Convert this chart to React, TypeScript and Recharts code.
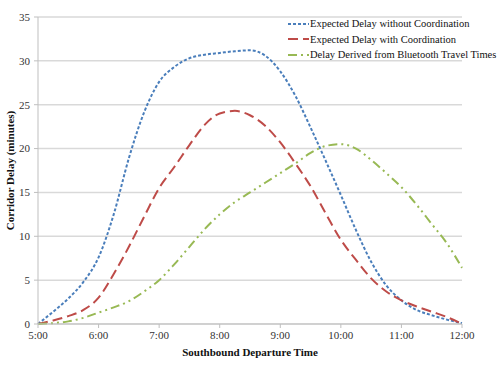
import React from 'react'
import { LineChart, Line, XAxis, YAxis, CartesianGrid } from 'recharts'

// departure time in hours, every 15 minutes from 5:00 to 12:00
const times = [5, 5.25, 5.5, 5.75, 6, 6.25, 6.5, 6.75, 7, 7.25, 7.5, 7.75, 8, 8.25, 8.5, 8.75, 9, 9.25, 9.5, 9.75, 10, 10.25, 10.5, 10.75, 11, 11.25, 11.5, 11.75, 12]

const withoutCoord = [0, 1.4, 2.9, 4.8, 7.6, 12.5, 18.9, 24.1, 27.6, 29.3, 30.3, 30.7, 30.9, 31.1, 31.2, 30.6, 28.8, 26.0, 22.4, 18.6, 14.7, 10.7, 7.1, 4.4, 2.7, 1.6, 1.0, 0.5, 0.1]
const withCoord = [0, 0.4, 0.9, 1.6, 3.0, 5.7, 8.8, 12.2, 15.5, 17.9, 20.4, 22.7, 24.0, 24.3, 23.8, 22.6, 20.7, 18.3, 15.7, 12.6, 9.6, 7.3, 5.2, 3.7, 2.7, 2.0, 1.4, 0.8, 0]
const bluetooth = [0, 0.1, 0.3, 0.7, 1.3, 1.9, 2.6, 3.7, 5.0, 6.8, 8.8, 10.8, 12.5, 13.9, 15.0, 16.1, 17.2, 18.3, 19.5, 20.3, 20.5, 20.0, 18.7, 17.2, 15.6, 13.6, 11.4, 9.2, 6.4]

const xTicks = [5, 6, 7, 8, 9, 10, 11, 12]
const yTicks = [0, 5, 10, 15, 20, 25, 30, 35]

const data = times.map((t, i) => ({
  t,
  without: withoutCoord[i],
  with: withCoord[i],
  bt: bluetooth[i],
}))

const SERIES = [
  { key: 'without', name: 'Expected Delay without Coordination', color: '#4a7ebb', dash: '3 2' },
  { key: 'with', name: 'Expected Delay with Coordination', color: '#be4b48', dash: '10 5' },
  { key: 'bt', name: 'Delay Derived from Bluetooth Travel Times', color: '#98b954', dash: '9 4 2 4 2 4' },
]

const FONT = '"Liberation Serif", "Times New Roman", serif'

function YLabel({ viewBox }: any) {
  const cy = viewBox.y + viewBox.height / 2
  return (
    <text x={10} y={cy} transform={`rotate(-90, 10, ${cy})`} textAnchor="middle" dominantBaseline="central"
      style={{ fontFamily: FONT, fontSize: 11, fontWeight: 'bold', fill: '#111' }}>
      Corridor Delay (minutes)
    </text>
  )
}

export default function App() {
  return (
    <div style={{ position: 'fixed', top: 0, left: 0, width: 500, height: 365, background: '#fff', fontFamily: FONT }}>
      <LineChart width={500} height={365} data={data} margin={{ top: 17, right: 38, bottom: 0, left: 0 }} style={{ fontFamily: FONT }}>
        <CartesianGrid vertical={false} stroke="#d9d9d9" strokeWidth={1.5} />
        <XAxis
          dataKey="t" type="number" domain={[5, 12]} ticks={xTicks} height={41}
          tickFormatter={(v) => `${v}:00`}
          tick={{ fontSize: 11, fill: '#333' }}
          stroke="#bfbfbf" tickSize={4} tickMargin={3}
          label={{ value: 'Southbound Departure Time', position: 'insideBottom', offset: 9, style: { fontFamily: FONT, fontSize: 11, fontWeight: 'bold', fill: '#111' } }}
        />
        <YAxis
          domain={[0, 35]} ticks={yTicks} width={38}
          tick={{ fontSize: 11, fill: '#333' }}
          stroke="#bfbfbf" tickSize={4} tickMargin={4}
          label={<YLabel />}
        />
        {SERIES.map((s) => (
          <Line key={s.key} type="monotone" dataKey={s.key} name={s.name} stroke={s.color} strokeWidth={2}
            strokeDasharray={s.dash} dot={false} isAnimationActive={false} />
        ))}
      </LineChart>

      {/* legend drawn over the plot, top right */}
      <div style={{ position: 'absolute', top: 16, left: 288, fontSize: 10.5, color: '#111', lineHeight: '15.5px', whiteSpace: 'nowrap' }}>
        {SERIES.map((s) => (
          <div key={s.key} style={{ display: 'flex', alignItems: 'center' }}>
            <svg width={21} height={10} style={{ marginRight: 1 }}>
              <line x1={0} y1={5} x2={21} y2={5} stroke={s.color} strokeWidth={2} strokeDasharray={s.dash} />
            </svg>
            <span>{s.name}</span>
          </div>
        ))}
      </div>
    </div>
  )
}
